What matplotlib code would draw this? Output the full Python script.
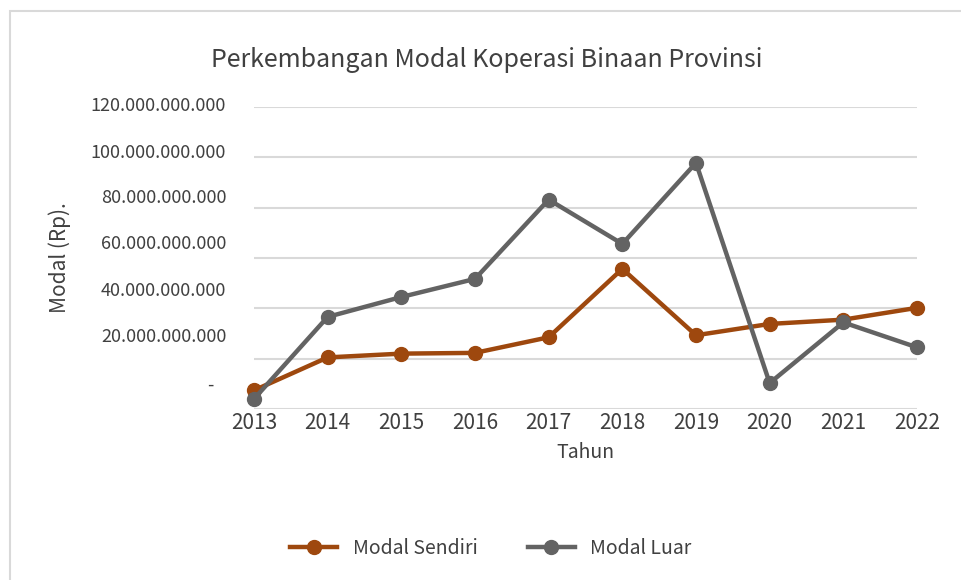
import matplotlib
matplotlib.use("Agg")
import matplotlib.pyplot as plt
from matplotlib.ticker import FuncFormatter
from matplotlib.patches import Rectangle
from matplotlib.transforms import ScaledTranslation

# Data (in Rupiah)
tahun = [2013, 2014, 2015, 2016, 2017, 2018, 2019, 2020, 2021, 2022]
modal_sendiri = [7.4e9, 20.5e9, 22.0e9, 22.3e9, 28.5e9, 55.7e9, 29.3e9, 33.8e9, 35.5e9, 40.2e9]
modal_luar = [4.0e9, 36.6e9, 44.5e9, 51.7e9, 83.2e9, 65.6e9, 97.8e9, 10.3e9, 34.4e9, 24.5e9]
y_ticks = [0, 20e9, 40e9, 60e9, 80e9, 100e9, 120e9]

plt.rcParams['font.family'] = ['Noto Sans CJK JP', 'DejaVu Sans']
teks = '#404040'

fig = plt.figure(figsize=(9.61, 5.8), dpi=100)
# bingkai grafik ala Excel
fig.patches.append(Rectangle((10 / 961, -0.1), 1.1, 1 - 11 / 580 + 0.1,
                             transform=fig.transFigure, fill=False,
                             edgecolor='#d9d9d9', linewidth=1.5))

ax = fig.add_axes([254 / 961, 1 - 409 / 580, 663 / 961, 302 / 580])

ax.plot(tahun, modal_sendiri, color='#9e480e', linewidth=3.2, marker='o',
        markersize=10, label='Modal Sendiri', zorder=3, clip_on=False)
ax.plot(tahun, modal_luar, color='#636363', linewidth=3.2, marker='o',
        markersize=10, label='Modal Luar', zorder=3, clip_on=False)

ax.set_xlim(2013, 2022)
ax.set_ylim(0, 120e9)
ax.set_xticks(tahun)
ax.set_yticks(y_ticks)


def format_rp(v, pos):
    if v == 0:
        return '-   '
    return f'{int(v):,}'.replace(',', '.')


ax.yaxis.set_major_formatter(FuncFormatter(format_rp))
ax.grid(axis='y', color='#d9d9d9', linewidth=1.5, zorder=0)
ax.set_axisbelow(True)
for s in ax.spines.values():
    s.set_visible(False)
ax.tick_params(axis='y', length=0, pad=20, labelsize=13, labelcolor=teks)
ax.tick_params(axis='x', length=0, pad=2, labelsize=15, labelcolor=teks)

# label sumbu y di gambar asli sedikit bergeser ke atas (piksel)
geser = [25, 23.6, 19.3, 15.6, 11.6, 6.6, 3.3]
for lbl, dy in zip(ax.get_yticklabels(), geser):
    lbl.set_transform(lbl.get_transform() + ScaledTranslation(0, dy / 100, fig.dpi_scale_trans))

ax.set_xlabel('Tahun', fontsize=14, color=teks, labelpad=6)
ax.set_ylabel('Modal (Rp).', fontsize=15, color=teks, labelpad=14)
fig.text(487 / 961, 1 - 60 / 580, 'Perkembangan Modal Koperasi Binaan Provinsi',
         fontsize=18, color=teks, ha='center', va='center')

fig.legend(loc='center', bbox_to_anchor=(491 / 961, 1 - 548 / 580), ncol=2,
           frameon=False, fontsize=14, labelcolor=teks, handlelength=2.4,
           columnspacing=2.6, handletextpad=0.8)

fig.savefig('out.png', dpi=100, facecolor='white')
